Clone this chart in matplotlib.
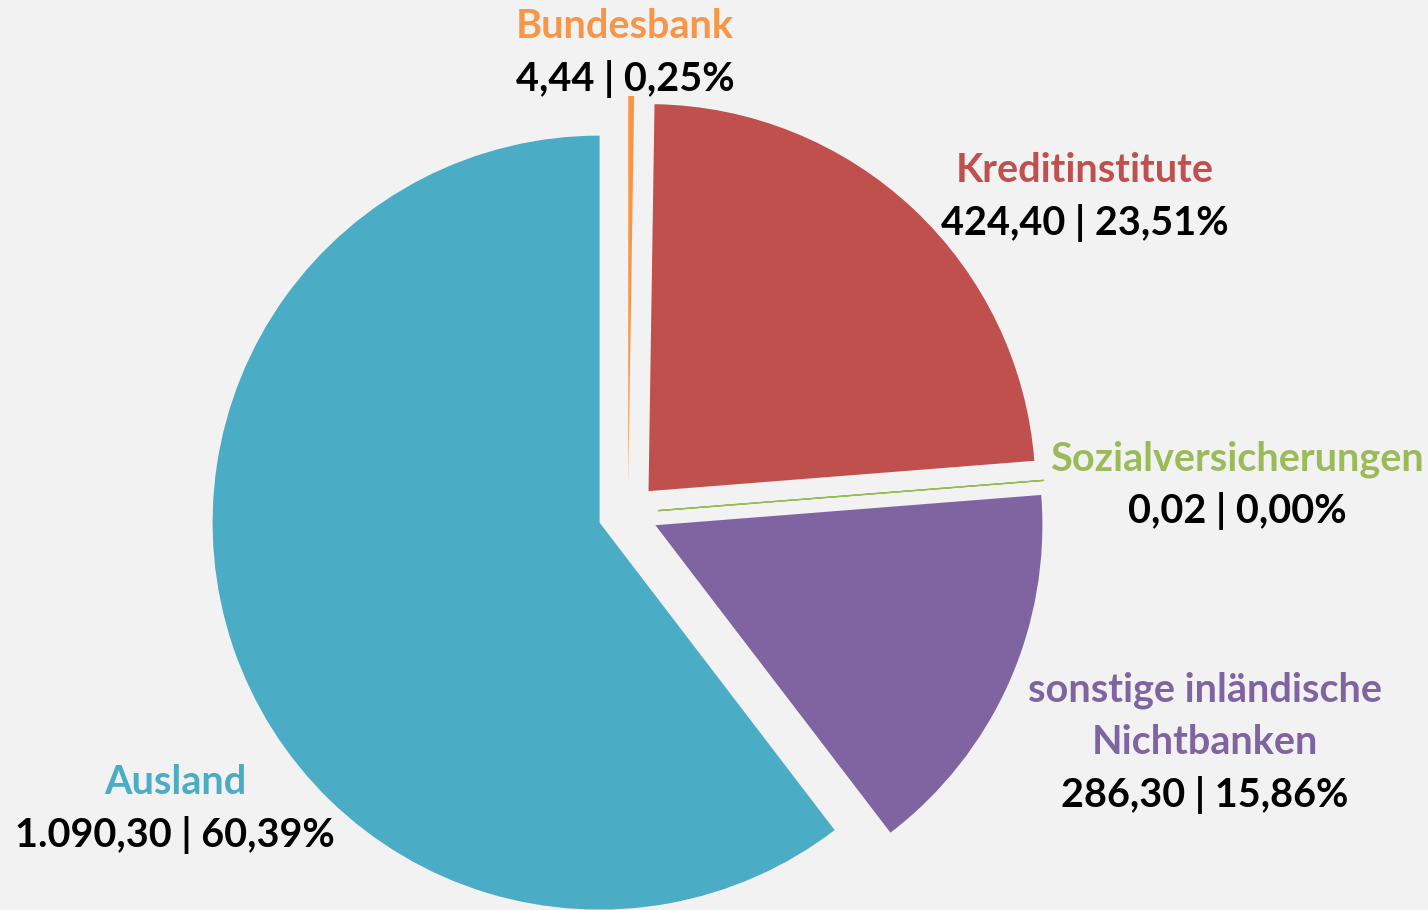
import matplotlib
matplotlib.use('Agg')
import matplotlib.pyplot as plt

# Data
categories = ['Bundesbank', 'Kreditinstitute', 'Sozialversicherungen',
              'sonstige inländische\nNichtbanken', 'Ausland']
values = [4.44, 424.40, 0.02, 286.30, 1090.30]
value_labels = ['4,44', '424,40', '0,02', '286,30', '1.090,30']
percent_labels = ['0,25%', '23,51%', '0,00%', '15,86%', '60,39%']
colors = ['#F79646', '#C0504D', '#9BBB59', '#8064A2', '#4BACC6']

# label positions in pixels (center of first line), y from top
label_pos = [(625, 27), (1085, 170), (1237, 459), (1205, 690), (175, 782)]

W, H = 1428, 910
fig = plt.figure(figsize=(W / 100, H / 100), dpi=100)
fig.patch.set_facecolor('#F2F2F2')
ax = fig.add_axes([0, 0, 1, 1])
ax.set_facecolor('#F2F2F2')

radius = 387
# explode is in data units (pixels here)
wedges, _ = ax.pie(values, colors=colors, startangle=90, counterclock=False,
                   radius=radius, center=(628, H - 513),
                   explode=[30] * len(values), frame=False,
                   wedgeprops={'linewidth': 0})
# make the tiny slice visible as a line
wedges[2].set_edgecolor(colors[2])
wedges[2].set_linewidth(1.0)

ax.set_xlim(0, W)
ax.set_ylim(0, H)
ax.set_aspect('equal')
ax.axis('off')

fs = 28.5
line = 52.5
for cat, v, p, c, (x, y) in zip(categories, value_labels, percent_labels,
                                colors, label_pos):
    lines = cat.split('\n')
    for i, t in enumerate(lines):
        ax.text(x, H - (y + i * line), t, color=c, fontsize=fs,
                fontweight='bold', family='Lato', ha='center', va='center')
    ax.text(x, H - (y + len(lines) * line), f'{v} | {p}', color='black',
            fontsize=fs, fontweight='bold', family='Lato',
            ha='center', va='center')

plt.savefig('out.png', dpi=100, facecolor=fig.get_facecolor())
